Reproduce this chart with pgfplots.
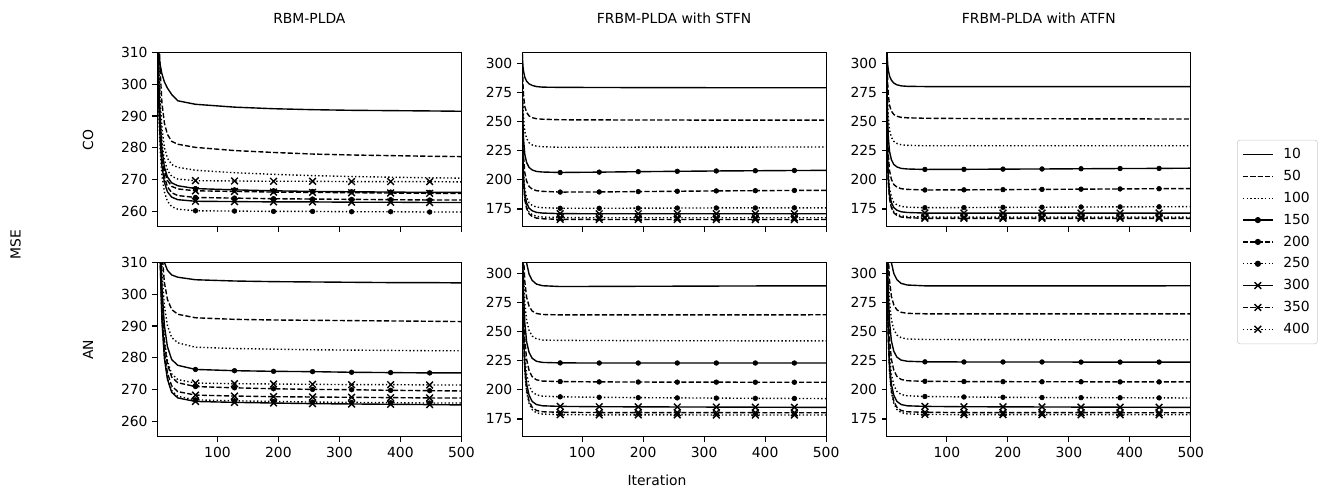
\documentclass[border=0pt]{standalone}
\usepackage{fontspec}
\setmainfont{DejaVu Sans}
\usepackage{pgfplots}
\usepackage{pgfplotstable}
\usepgfplotslibrary{groupplots}
\pgfplotsset{compat=1.18}

% columns: iteration, then one column per hidden-unit count
\pgfplotstableread{
it s10 s50 s100 s150 s200 s250 s300 s350 s400
1 330 360.6 348.3 337.6 334.5 325.2 328.2 334.6 341.7
2 318 340.6 329.6 320.1 317.0 309.0 312.0 317.6 323.7
3 313 327.0 316.8 308.2 305.1 297.9 300.9 306.0 311.5
4 310 317.4 307.8 299.8 296.7 290.1 293.1 297.9 302.8
6 306.3 304.6 295.8 288.6 285.5 279.7 282.7 287.0 291.3
9 303.3 294.2 286.1 279.5 276.4 271.3 274.3 278.2 281.9
13 300.8 287.8 280.1 273.9 270.8 266.1 269.1 272.7 276.2
18 298.8 284.2 276.7 270.8 267.7 263.1 266.1 269.7 272.9
25 296.8 282.0 274.7 268.9 265.8 261.4 264.4 267.8 271.0
35 294.8 281.1 273.8 268.0 264.9 260.6 263.6 267.0 270.1
64 293.7 280.1 272.9 267.1 264.3 260.1 263.1 266.4 269.6
128 292.8 279.1 272.1 266.7 264.1 260.0 263.0 266.2 269.5
192 292.3 278.5 271.6 266.4 263.9 259.9 262.9 266.0 269.4
256 292.0 278.0 271.2 266.2 263.8 259.9 262.9 265.9 269.4
320 291.8 277.7 270.9 266.1 263.7 259.8 262.8 265.8 269.3
384 291.7 277.5 270.7 266.0 263.6 259.8 262.8 265.7 269.3
448 291.6 277.3 270.5 265.9 263.5 259.7 262.7 265.6 269.3
500 291.5 277.2 270.4 265.9 263.5 259.7 262.7 265.6 269.2
}\rbmco

\pgfplotstableread{
it s10 s50 s100 s150 s200 s250 s300 s350 s400
1 360.1 413 423.9 426.7 421.2 416.9 416.4 418.4 422.2
2 346.4 383 388.9 389.2 383.7 379.4 378.9 380.9 384.7
3 337.0 362.6 365.1 363.7 358.2 353.9 353.4 355.4 359.2
4 330.4 348.2 348.3 345.7 340.2 335.9 335.4 337.4 341.2
6 321.6 329.0 325.9 321.7 316.2 311.9 311.4 313.4 317.2
9 314.5 313.4 307.7 302.2 296.7 292.4 291.9 293.9 297.7
13 310.1 303.8 296.5 290.2 284.7 280.4 279.9 281.9 285.7
18 307.6 298.4 290.2 283.5 278.0 273.7 273.2 275.2 279.0
25 306.1 295.2 286.4 279.4 273.9 269.6 269.1 271.1 274.9
35 305.4 293.7 284.7 277.6 272.1 267.8 267.3 269.3 273.1
64 304.6 292.6 283.3 276.3 270.9 266.7 266.2 268.2 272.0
128 304.2 292.1 282.9 275.9 270.5 266.4 265.9 267.9 271.8
192 304.0 291.9 282.7 275.7 270.2 266.2 265.7 267.7 271.7
256 303.9 291.8 282.5 275.6 270.0 266.0 265.5 267.6 271.6
320 303.8 291.7 282.4 275.4 269.9 265.9 265.4 267.5 271.5
384 303.7 291.6 282.3 275.3 269.7 265.8 265.3 267.4 271.5
448 303.7 291.5 282.2 275.2 269.6 265.7 265.2 267.3 271.4
500 303.6 291.4 282.2 275.2 269.5 265.7 265.1 267.3 271.4
}\rbman

\pgfplotstableread{
it s10 s50 s100 s150 s200 s250 s300 s350 s400
1 330 351.8 348.2 346.4 339.8 325.8 321.2 316.3 317.8
2 305 301.8 288.2 276.4 264.8 250.8 246.2 241.3 242.8
3 297 281.8 264.2 248.4 234.8 220.8 216.2 211.3 212.8
4 293 271.8 252.2 234.4 219.8 205.8 201.2 196.3 197.8
6 288 262.8 241.4 221.8 206.3 192.3 187.7 182.8 184.3
9 284.5 257.8 235.4 214.8 198.8 184.8 180.2 175.3 176.8
13 282.3 254.8 231.8 210.6 194.3 180.3 175.7 170.8 172.3
18 281.0 253.3 230.0 208.5 192.1 178.1 173.5 168.6 170.1
25 280.0 252.4 228.9 207.2 190.7 176.7 172.1 167.2 168.7
35 279.5 252.0 228.4 206.7 190.1 176.1 171.5 166.6 168.1
64 279.3 251.5 227.9 206.3 189.5 175.6 171.0 166.1 167.6
128 279.2 251.4 227.9 206.6 189.6 175.6 170.9 166.0 167.5
192 279.1 251.3 228.0 207.0 189.9 175.7 170.9 166.0 167.5
256 279.1 251.3 228.0 207.3 190.2 175.8 170.9 166.0 167.5
320 279.0 251.2 228.1 207.6 190.5 175.9 170.9 166.0 167.5
384 279.0 251.2 228.1 207.8 190.7 175.9 170.9 166.0 167.5
448 279.0 251.2 228.2 208.0 190.9 176.0 170.9 166.0 167.5
500 279.0 251.2 228.2 208.1 191.0 176.0 170.9 166.0 167.5
}\stfnco

\pgfplotstableread{
it s10 s50 s100 s150 s200 s250 s300 s350 s400
1 406.6 414.3 412.4 403.1 397.1 384.2 375.9 370.8 368.8
2 377.1 361.8 352.9 340.1 330.6 317.7 309.4 304.3 302.3
3 357.0 331.8 318.9 304.1 292.6 279.7 271.4 266.3 264.3
4 342.9 313.8 298.5 282.5 269.8 256.9 248.6 243.5 241.5
6 324.0 292.8 274.7 257.3 243.2 230.3 222.0 216.9 214.9
9 308.7 279.3 259.4 241.1 226.1 213.2 204.9 199.8 197.8
13 299.2 271.8 250.9 232.1 216.6 203.7 195.4 190.3 188.3
18 293.9 267.6 246.1 227.1 211.3 198.4 190.1 185.0 183.0
25 290.7 265.5 243.8 224.5 208.6 195.7 187.4 182.3 180.3
35 289.3 264.6 242.7 223.5 207.5 194.6 186.3 181.2 179.2
64 288.6 264.3 242.4 223.1 207.1 194.0 185.8 180.7 178.7
128 288.7 264.3 242.3 223.0 206.8 193.6 185.5 180.5 178.5
192 288.8 264.3 242.2 223.0 206.7 193.3 185.4 180.5 178.5
256 288.9 264.3 242.1 223.0 206.6 193.1 185.3 180.4 178.5
320 289.0 264.3 242.1 223.0 206.6 192.9 185.2 180.4 178.4
384 289.1 264.3 242.0 223.0 206.5 192.7 185.1 180.4 178.4
448 289.2 264.3 242.0 223.0 206.5 192.6 185.0 180.3 178.4
500 289.2 264.4 242.0 223.0 206.5 192.5 185.0 180.3 178.4
}\stfnan

\pgfplotstableread{
it s10 s50 s100 s150 s200 s250 s300 s350 s400
1 335 353.0 349.4 349.0 341.5 326.3 321.7 317.2 318.2
2 308 303.0 289.4 279.0 266.5 251.3 246.7 242.2 243.2
3 299 283.0 265.4 251.0 236.5 221.3 216.7 212.2 213.2
4 294 273.0 253.4 237.0 221.5 206.3 201.7 197.2 198.2
6 289 264.0 242.6 224.4 208.0 192.8 188.2 183.7 184.7
9 285.5 259.0 236.6 217.4 200.5 185.3 180.7 176.2 177.2
13 283.0 256.0 233.0 213.2 196.0 180.8 176.2 171.7 172.7
18 281.5 254.5 231.2 211.1 193.8 178.6 174.0 169.5 170.5
25 280.6 253.6 230.1 209.8 192.4 177.2 172.6 168.1 169.1
35 280.2 253.2 229.6 209.3 191.8 176.6 172.0 167.5 168.5
64 280.0 252.8 229.2 208.9 191.3 176.1 171.5 167.0 168.0
128 280.0 252.6 229.2 209.0 191.4 176.2 171.5 167.0 168.0
192 280.0 252.5 229.2 209.2 191.6 176.4 171.5 167.0 168.0
256 280.0 252.4 229.2 209.3 191.8 176.5 171.5 167.0 168.0
320 280.0 252.3 229.2 209.5 192.0 176.7 171.5 167.0 168.0
384 280.0 252.3 229.2 209.7 192.2 176.8 171.5 167.0 168.0
448 280.0 252.2 229.2 209.8 192.4 176.9 171.5 167.0 168.0
500 280.0 252.2 229.2 210.0 192.5 177.0 171.5 167.0 168.0
}\atfnco

\pgfplotstableread{
it s10 s50 s100 s150 s200 s250 s300 s350 s400
1 407.2 415.3 413.3 404.1 397.4 384.5 375.9 370.8 369.0
2 377.7 362.8 353.8 341.1 330.9 318.0 309.4 304.3 302.5
3 357.6 332.8 319.8 305.1 292.9 280.0 271.4 266.3 264.5
4 343.5 314.8 299.4 283.5 270.1 257.2 248.6 243.5 241.7
6 324.6 293.8 275.6 258.3 243.5 230.6 222.0 216.9 215.1
9 309.3 280.3 260.3 242.1 226.4 213.5 204.9 199.8 198.0
13 299.8 272.8 251.8 233.1 216.9 204.0 195.4 190.3 188.5
18 294.5 268.6 247.0 228.1 211.6 198.7 190.1 185.0 183.2
25 291.3 266.5 244.7 225.5 208.9 196.0 187.4 182.3 180.5
35 289.9 265.6 243.6 224.5 207.8 194.9 186.3 181.2 179.4
64 289.2 265.2 243.2 224.0 207.3 194.3 185.8 180.7 178.9
128 289.2 265.2 243.1 223.9 207.1 193.9 185.5 180.5 178.7
192 289.2 265.2 243.1 223.9 207.0 193.6 185.4 180.5 178.7
256 289.2 265.2 243.0 223.9 206.9 193.4 185.3 180.4 178.7
320 289.2 265.2 243.0 223.8 206.9 193.3 185.2 180.4 178.6
384 289.2 265.2 243.0 223.8 206.8 193.2 185.1 180.4 178.6
448 289.2 265.2 243.0 223.8 206.8 193.1 185.0 180.3 178.6
500 289.3 265.2 243.0 223.8 206.8 193.0 185.0 180.3 178.6
}\atfnan

\tikzset{
  dashd/.style={dash pattern=on 3.7pt off 1.6pt},
  dotd/.style={dash pattern=on 1pt off 1.65pt},
  % lines keep the mark only for the legend sample (no 100th point exists)
  dotmk/.style={mark=*, mark size=1.7pt, mark options={solid}, mark phase=100},
  xmk/.style={mark=x, mark size=3.4pt, mark options={solid}, mark phase=100},
}
\pgfplotscreateplotcyclelist{mse}{
  {black, line width=1pt},
  {black, line width=1pt, dashd},
  {black, line width=1pt, dotd},
  {black, line width=1pt, dotmk},
  {black, line width=1pt, dashd, dotmk},
  {black, line width=1pt, dotd, dotmk},
  {black, line width=1pt, xmk},
  {black, line width=1pt, dashd, xmk},
  {black, line width=1pt, dotd, xmk}%
}
\pgfplotsset{
  mkdot/.style={forget plot, only marks, black, mark=*, mark size=1.7pt,
    restrict x to domain=60:450},
  mkx/.style={forget plot, only marks, black, line width=1pt, mark=x,
    mark size=3.4pt, restrict x to domain=60:450},
}

\newcommand\allnine[1]{%
  \addplot table[x=it, y=s10]{#1};
  \addplot table[x=it, y=s50]{#1};
  \addplot table[x=it, y=s100]{#1};
  \addplot table[x=it, y=s150]{#1};
  \addplot table[x=it, y=s200]{#1};
  \addplot table[x=it, y=s250]{#1};
  \addplot table[x=it, y=s300]{#1};
  \addplot table[x=it, y=s350]{#1};
  \addplot table[x=it, y=s400]{#1};
  \addplot[mkdot] table[x=it, y=s150]{#1};
  \addplot[mkdot] table[x=it, y=s200]{#1};
  \addplot[mkdot] table[x=it, y=s250]{#1};
  \addplot[mkx] table[x=it, y=s300]{#1};
  \addplot[mkx] table[x=it, y=s350]{#1};
  \addplot[mkx] table[x=it, y=s400]{#1};
}

\begin{document}
\begin{tikzpicture}
\begin{groupplot}[
  group style={group size=3 by 2, horizontal sep=43.7pt, vertical sep=25.7pt,
    xticklabels at=edge bottom},
  scale only axis, width=218.9pt, height=125.5pt,
  xmin=1.5, xmax=500, xtick={100,200,300,400,500},
  tick align=outside, xtick pos=left, ytick pos=left,
  major tick length=3.5pt,
  every tick/.style={black, line width=0.8pt},
  axis line style={line width=0.8pt},
  ticklabel style={font=\fontsize{10}{12}\selectfont},
  /pgf/number format/assume math mode=true,
  cycle list name=mse,
]
\nextgroupplot[ymin=255, ymax=310, ytick={260,270,280,290,300,310}]
\allnine{\rbmco}
\nextgroupplot[ymin=159.6, ymax=309.1, ytick={175,200,225,250,275,300}]
\allnine{\stfnco}
\nextgroupplot[ymin=159.6, ymax=309.1, ytick={175,200,225,250,275,300},
  legend style={at={(1.152,-0.086)}, anchor=west, draw=black!20,
    rounded corners=2pt, font=\fontsize{10}{12}\selectfont,
    row sep=2.8pt, inner xsep=3.5pt, inner ysep=4pt,
    /tikz/every odd column/.append style={column sep=5pt}},
  legend cell align=left,
  legend image code/.code={\draw[line width=1pt, mark repeat=2, mark phase=2]
    plot coordinates {(0cm,0cm) (0.38cm,0cm) (0.76cm,0cm)};}]
\allnine{\atfnco}
\legend{10,50,100,150,200,250,300,350,400}
\nextgroupplot[ymin=255, ymax=310, ytick={260,270,280,290,300,310}]
\allnine{\rbman}
\nextgroupplot[ymin=159.6, ymax=309.1, ytick={175,200,225,250,275,300}]
\allnine{\stfnan}
\nextgroupplot[ymin=159.6, ymax=309.1, ytick={175,200,225,250,275,300}]
\allnine{\atfnan}
\end{groupplot}

\node at ([yshift=24.5pt]group c1r1.north) {RBM-PLDA};
\node at ([yshift=24.5pt]group c2r1.north) {FRBM-PLDA with STFN};
\node at ([yshift=24.5pt]group c3r1.north) {FRBM-PLDA with ATFN};
\node[rotate=90] at ([xshift=-49.9pt]group c1r1.west) {CO};
\node[rotate=90] at ([xshift=-49.9pt]group c1r2.west) {AN};
\node[rotate=90] at ([xshift=-102pt,yshift=-12.9pt]group c1r1.south west) {MSE};
\node at ([xshift=-12.3pt,yshift=-31pt]group c2r2.south) {Iteration};
\path ([shift={(-113.3pt,37.9pt)}]group c1r1.north west)
  rectangle ([shift={(840pt,-314.9pt)}]group c1r1.north west);
\end{tikzpicture}
\end{document}
